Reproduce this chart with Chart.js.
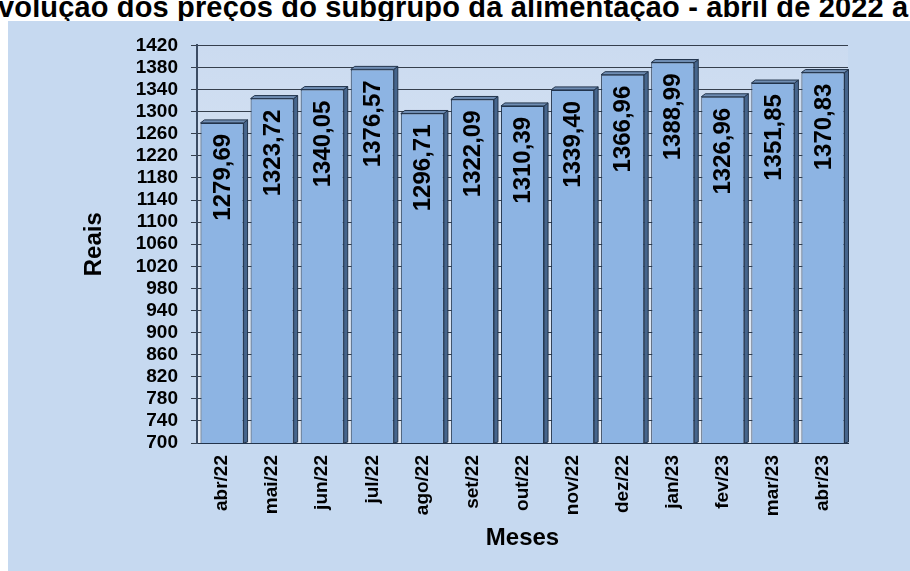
<!DOCTYPE html>
<html lang="pt">
<head>
<meta charset="utf-8">
<title>Evolução dos preços do subgrupo da alimentação</title>
<style>
body { margin: 0; background: #ffffff; width: 910px; height: 571px; overflow: hidden; position: relative; }
#titulo {
    position: absolute; left: -2px; top: -9px;
    font-family: "Liberation Sans", Arial, sans-serif;
    font-weight: bold; font-size: 29px; line-height: 32px; letter-spacing: 0.15px; white-space: nowrap; color: #000;
}
.painel { position: absolute; left: 8px; top: 21px; width: 902px; height: 550px; background: #c6d9f0; }
</style>
</head>
<body>
<div id="titulo">volução dos preços do subgrupo da alimentação - abril de 2022 a</div>
<div class="painel"><canvas id="canvas" width="902" height="550"></canvas></div>

<script src="https://cdn.jsdelivr.net/npm/chart.js"></script>
<script>
// dados
const meses = ["abr/22", "mai/22", "jun/22", "jul/22", "ago/22", "set/22", "out/22",
               "nov/22", "dez/22", "jan/23", "fev/23", "mar/23", "abr/23"];
const valores = [1279.69, 1323.72, 1340.05, 1376.57, 1296.71, 1322.09, 1310.39,
                 1339.40, 1366.96, 1388.99, 1326.96, 1351.85, 1370.83];
const yMin = 700, yMax = 1420, yPasso = 40;

const fonte = '"Liberation Sans", Arial, sans-serif';
const prof = 4; // profundidade do efeito 3D

// fundo da area do grafico (parede clara)
const fundoPlugin = {
  id: 'fundo',
  beforeDraw(chart) {
    const {ctx, chartArea: a} = chart;
    const g = ctx.createLinearGradient(0, a.top, 0, a.bottom);
    g.addColorStop(0, '#cbdbf0');
    g.addColorStop(1, '#e6ecf5');
    ctx.save();
    ctx.fillStyle = g;
    ctx.fillRect(a.left, a.top, a.right - a.left, a.bottom - a.top);
    ctx.restore();
  }
};

// faces 3D + rotulos dentro das barras
const barras3d = {
  id: 'barras3d',
  afterDatasetsDraw(chart) {
    const ctx = chart.ctx;
    const meta = chart.getDatasetMeta(0);
    const fundo = chart.chartArea.bottom;
    ctx.save();
    meta.data.forEach((b, i) => {
      const l = b.x - b.width / 2, r = b.x + b.width / 2;
      // lado direito
      ctx.beginPath();
      ctx.moveTo(r, b.y);
      ctx.lineTo(r + prof, b.y - prof + 1);
      ctx.lineTo(r + prof, fundo - 1);
      ctx.lineTo(r, fundo);
      ctx.closePath();
      ctx.fillStyle = '#46658c';
      ctx.fill();
      ctx.strokeStyle = '#22344c';
      ctx.lineWidth = 1;
      ctx.stroke();
      // topo
      ctx.beginPath();
      ctx.moveTo(l, b.y);
      ctx.lineTo(l + prof, b.y - prof + 1);
      ctx.lineTo(r + prof, b.y - prof + 1);
      ctx.lineTo(r, b.y);
      ctx.closePath();
      ctx.fillStyle = '#6f8db3';
      ctx.fill();
      ctx.stroke();

      // valor
      ctx.save();
      ctx.translate(b.x + 1, b.y + 11);
      ctx.rotate(-Math.PI / 2);
      ctx.font = 'bold 24px ' + fonte;
      ctx.fillStyle = '#000';
      ctx.textAlign = 'right';
      ctx.textBaseline = 'middle';
      ctx.fillText(valores[i].toFixed(2).replace('.', ','), 0, 0);
      ctx.restore();
    });
    ctx.restore();
  }
};

const ctx = document.getElementById('canvas').getContext('2d');
let grafico = new Chart(ctx, {
  type: 'bar',
  data: {
    labels: meses,
    datasets: [{
      label: 'Reais',
      data: valores,
      backgroundColor: '#8db4e3',
      borderColor: '#22344c',
      borderWidth: 1,
      borderSkipped: 'bottom',
      categoryPercentage: 1,
      barPercentage: 0.86
    }]
  },
  options: {
    responsive: false,
    animation: false,
    devicePixelRatio: 1,
    layout: { padding: { top: 23, right: 62, left: 0, bottom: 0 } },
    plugins: { legend: { display: false }, tooltip: { enabled: false } },
    scales: {
      x: {
        grid: { display: false, drawTicks: false },
        border: { display: true, color: '#22344c', width: 1 },
        ticks: {
          color: '#000', maxRotation: 90, minRotation: 90, padding: 12,
          font: { family: fonte, size: 19, weight: 'bold' }
        },
        title: {
          display: true, text: 'Meses', color: '#000',
          font: { family: fonte, size: 24, weight: 'bold' },
          padding: { top: 0, bottom: 18 }
        },
        afterFit(s) { s.height = 128; }
      },
      y: {
        min: yMin, max: yMax,
        grid: { color: '#353f4d', lineWidth: 1, tickLength: 6 },
        border: { display: true, color: '#3b4c63', width: 2 },
        ticks: {
          stepSize: yPasso, color: '#000', padding: 13, autoSkip: false,
          font: { family: fonte, size: 19, weight: 'bold' },
          callback: v => String(v)
        },
        title: {
          display: true, text: 'Reais', color: '#000',
          font: { family: fonte, size: 24, weight: 'bold' },
          padding: { top: 72, bottom: 0 }
        },
        afterFit(s) { s.width = 189; }
      }
    }
  },
  plugins: [fundoPlugin, barras3d]
});
</script>
</body>
</html>
